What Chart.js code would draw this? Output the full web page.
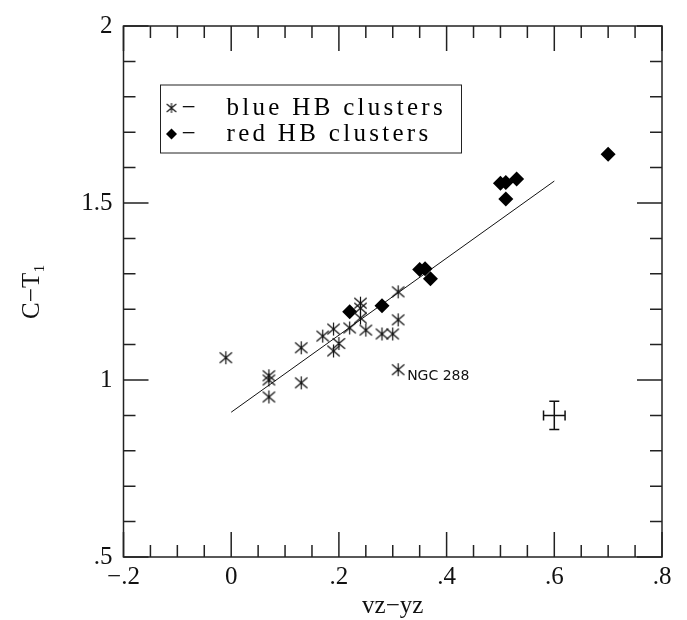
<!DOCTYPE html>
<html>
<head>
<meta charset="utf-8">
<script src="https://cdn.jsdelivr.net/npm/chart.js@4.4.0/dist/chart.umd.min.js"></script>
<style>
  body { margin: 0; background: #fff; }
  #wrap { width: 687px; height: 620px; }
</style>
</head>
<body>
<div id="wrap"><canvas id="chart" width="687" height="620"></canvas></div>
<script>
// Données
const blueX = [-0.01, 0.07, 0.07, 0.07, 0.13, 0.13, 0.17, 0.19, 0.19, 0.20, 0.22, 0.24, 0.24, 0.24, 0.25, 0.28, 0.30, 0.31, 0.31, 0.31];
const blueY = [1.063, 1.012, 1.000, 0.952, 1.091, 0.992, 1.124, 1.144, 1.082, 1.103, 1.147, 1.217, 1.203, 1.175, 1.141, 1.130, 1.130, 1.249, 1.170, 1.029];
const redX = [0.22, 0.28, 0.35, 0.36, 0.37, 0.50, 0.51, 0.53, 0.51, 0.70];
const redY = [1.193, 1.210, 1.312, 1.314, 1.286, 1.556, 1.558, 1.568, 1.511, 1.638];
const fitX = [0, 0.6];
const fitY = [0.909, 1.562];

// Barre d'erreur typique
const errX = 0.6, errY = 0.9, errDx = 0.02, errDy = 0.04;

// Étiquette d'un amas
const noteX = 0.31, noteY = 1.029, noteText = 'NGC 288';

const legendLabels = ['blue HB clusters', 'red HB clusters'];
const xTicks = [-0.2, 0, 0.2, 0.4, 0.6, 0.8];
const yTicks = [0.5, 1, 1.5, 2];
const xMinorStep = 0.05, yMinorStep = 0.1;

const serif = '"Liberation Serif", "DejaVu Serif", serif';

// Astérisque à six branches
function makeStar(r, lw) {
    const s = Math.ceil(2 * r + 4);
    const c = document.createElement('canvas');
    c.width = s; c.height = s;
    const g = c.getContext('2d');
    const m = s / 2;
    g.strokeStyle = '#111';
    g.lineWidth = lw;
    g.beginPath();
    g.moveTo(m, m - r); g.lineTo(m, m + r);
    g.moveTo(m - r * 0.95, m - r * 0.8); g.lineTo(m + r * 0.95, m + r * 0.8);
    g.moveTo(m - r * 0.95, m + r * 0.8); g.lineTo(m + r * 0.95, m - r * 0.8);
    g.stroke();
    return c;
}
const starBig = makeStar(6.5, 1.2);
const starSmall = makeStar(5, 1.1);

function fmtTick(v) {
    const r = Math.round(v * 100) / 100;
    if (r === 0) return '0';
    const s = String(Math.abs(r)).replace(/^0\./, '.');
    return (r < 0 ? '−' : '') + s;
}

function toPoints(xs, ys) {
    return xs.map((x, i) => ({ x: x, y: ys[i] }));
}

function diamond(ctx, x, y, r) {
    ctx.beginPath();
    ctx.moveTo(x, y - r);
    ctx.lineTo(x + r, y);
    ctx.lineTo(x, y + r);
    ctx.lineTo(x - r, y);
    ctx.closePath();
    ctx.fill();
}

// Cadre, graduations internes, légende, barre d'erreur
const framePlugin = {
    id: 'frame',
    afterDatasetsDraw(chart) {
        const ctx = chart.ctx;
        const a = chart.chartArea;
        const xs = chart.scales.x, ys = chart.scales.y;
        ctx.save();
        ctx.strokeStyle = '#222';
        ctx.lineWidth = 1.5;
        ctx.strokeRect(a.left, a.top, a.right - a.left, a.bottom - a.top);

        ctx.beginPath();
        for (let v = xs.min; v <= xs.max + 1e-9; v += xMinorStep) {
            const px = xs.getPixelForValue(v);
            const major = xTicks.some(t => Math.abs(t - v) < 1e-6);
            const len = major ? 25 : 12;
            ctx.moveTo(px, a.bottom); ctx.lineTo(px, a.bottom - len);
            ctx.moveTo(px, a.top); ctx.lineTo(px, a.top + len);
        }
        for (let v = ys.min; v <= ys.max + 1e-9; v += yMinorStep) {
            const py = ys.getPixelForValue(v);
            const major = yTicks.some(t => Math.abs(t - v) < 1e-6);
            const len = major ? 25 : 12;
            ctx.moveTo(a.left, py); ctx.lineTo(a.left + len, py);
            ctx.moveTo(a.right, py); ctx.lineTo(a.right - len, py);
        }
        ctx.stroke();

        // barre d'erreur
        const cx = xs.getPixelForValue(errX), cy = ys.getPixelForValue(errY);
        const x0 = xs.getPixelForValue(errX - errDx), x1 = xs.getPixelForValue(errX + errDx);
        const y0 = ys.getPixelForValue(errY - errDy), y1 = ys.getPixelForValue(errY + errDy);
        ctx.strokeStyle = '#111';
        ctx.lineWidth = 1.5;
        ctx.beginPath();
        ctx.moveTo(x0, cy); ctx.lineTo(x1, cy);
        ctx.moveTo(cx, y0); ctx.lineTo(cx, y1);
        ctx.moveTo(x0, cy - 5); ctx.lineTo(x0, cy + 5);
        ctx.moveTo(x1, cy - 5); ctx.lineTo(x1, cy + 5);
        ctx.moveTo(cx - 5, y0); ctx.lineTo(cx + 5, y0);
        ctx.moveTo(cx - 5, y1); ctx.lineTo(cx + 5, y1);
        ctx.stroke();

        // NGC 288
        ctx.fillStyle = '#111';
        ctx.font = '14px "DejaVu Sans", sans-serif';
        ctx.textAlign = 'left';
        ctx.textBaseline = 'middle';
        ctx.fillText(noteText, xs.getPixelForValue(noteX) + 9, ys.getPixelForValue(noteY) + 7);

        // légende
        const lx = a.left + 37, ly = a.top + 59;
        ctx.strokeStyle = '#222';
        ctx.lineWidth = 1;
        ctx.strokeRect(lx, ly, 301, 68);
        const rows = [ly + 23, ly + 49];
        ctx.drawImage(starSmall, lx + 11 - starSmall.width / 2, rows[0] - starSmall.height / 2);
        ctx.fillStyle = '#000';
        diamond(ctx, lx + 11, rows[1], 5.5);
        ctx.font = '25px ' + serif;
        rows.forEach((ry, i) => {
            ctx.letterSpacing = '0px';
            ctx.textAlign = 'center';
            ctx.fillText('−', lx + 28, ry);
            ctx.letterSpacing = '3.3px';
            ctx.textAlign = 'left';
            ctx.fillText(legendLabels[i], lx + 66, ry);
        });
        ctx.restore();
    }
};

const ctx = document.getElementById('chart').getContext('2d');
new Chart(ctx, {
    type: 'scatter',
    data: {
        datasets: [
            {
                label: 'blue HB clusters',
                data: toPoints(blueX, blueY),
                pointStyle: starBig,
                pointRadius: 7
            },
            {
                label: 'red HB clusters',
                data: toPoints(redX, redY),
                pointStyle: 'rectRot',
                pointRadius: 7.5,
                backgroundColor: '#000',
                borderColor: '#000',
                borderWidth: 0
            },
            {
                type: 'line',
                label: 'fit',
                data: toPoints(fitX, fitY),
                borderColor: '#111',
                borderWidth: 1,
                pointRadius: 0,
                fill: false
            }
        ]
    },
    options: {
        responsive: false,
        animation: false,
        layout: { padding: { left: 10, right: 25, top: 20, bottom: 0 } },
        plugins: {
            legend: { display: false },
            tooltip: { enabled: false }
        },
        scales: {
            x: {
                type: 'linear',
                min: -0.2,
                max: 0.8,
                grid: { display: false, drawTicks: false },
                border: { display: false },
                afterFit: s => { s.height = 63; },
                afterBuildTicks: s => { s.ticks = xTicks.map(v => ({ value: v })); },
                ticks: {
                    color: '#111',
                    padding: 5,
                    autoSkip: false,
                    maxRotation: 0,
                    font: { family: serif, size: 25 },
                    callback: v => fmtTick(v)
                },
                title: {
                    display: true,
                    text: 'vz−yz',
                    color: '#111',
                    font: { family: serif, size: 25, lineHeight: 1 },
                    padding: { top: 0, bottom: 1 }
                }
            },
            y: {
                type: 'linear',
                min: 0.5,
                max: 2,
                grid: { display: false, drawTicks: false },
                border: { display: false },
                afterFit: s => { s.width = 113.5; },
                afterBuildTicks: s => { s.ticks = yTicks.map(v => ({ value: v })); },
                ticks: {
                    color: '#111',
                    padding: 11,
                    autoSkip: false,
                    font: { family: serif, size: 25 },
                    callback: v => fmtTick(v)
                },
                title: {
                    display: true,
                    text: 'C−T₁',
                    color: '#111',
                    font: { family: serif, size: 25 },
                    padding: { top: 7, bottom: 0 }
                }
            }
        }
    },
    plugins: [framePlugin]
});
</script>
</body>
</html>
